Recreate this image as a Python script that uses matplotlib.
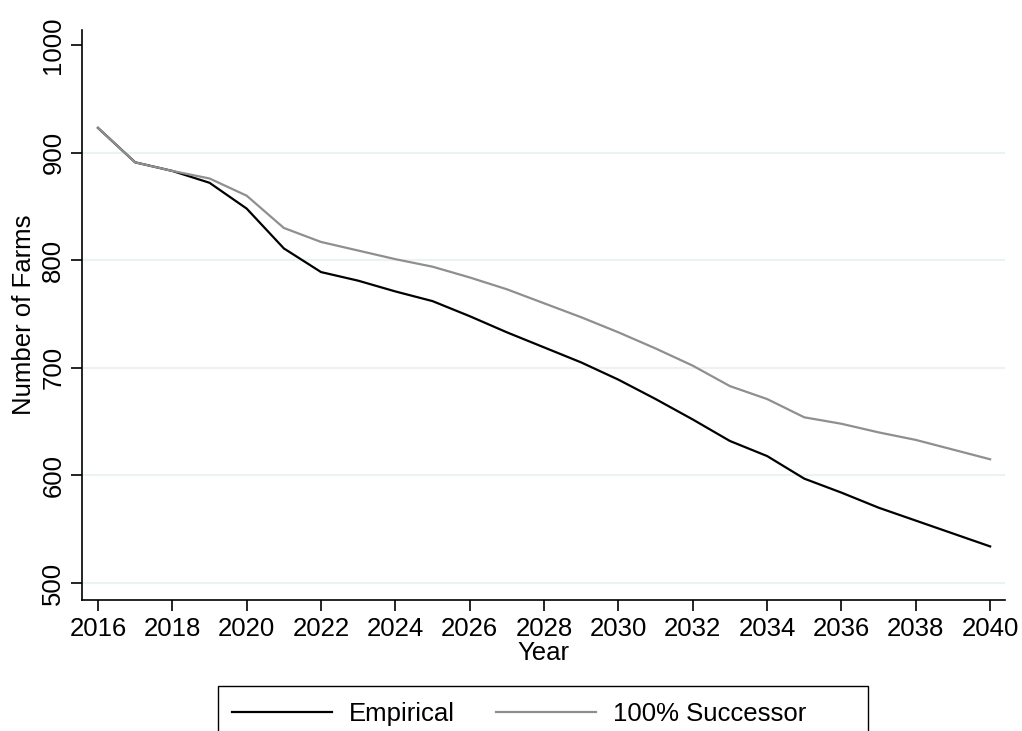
import matplotlib
matplotlib.use("Agg")
from matplotlib import pyplot as plt
from matplotlib.patches import Rectangle
import numpy as np

plt.rcParams['font.family'] = ['Liberation Sans', 'DejaVu Sans']

# values
years = list(range(2016, 2041))
empirical = [923, 891, 883, 872, 848, 811, 789, 781, 771, 762, 748, 733, 719,
             705, 689, 671, 652, 632, 618, 597, 584, 570, 558, 546, 534]
successor = [923, 891, 883, 876, 860, 830, 817, 809, 801, 794, 784, 773, 760,
             747, 733, 718, 702, 683, 671, 654, 648, 640, 633, 624, 615]

xticks = list(range(2016, 2041, 2))
yticks = [500, 600, 700, 800, 900, 1000]
grid_levels = [500, 600, 700, 800, 900]

fs = 18.5
W, H = 1022, 731

fig = plt.figure(figsize=(W / 100, H / 100), dpi=100)
ax = fig.add_axes([82 / W, 1 - 600 / H, (1005 - 82) / W, (600 - 30) / H])

# light gridlines like the stata scheme
for g in grid_levels:
    ax.axhline(g, color="#eaf2f3", lw=1.5, zorder=0)

ax.plot(years, empirical, color="black", lw=1.6, label="Empirical")
ax.plot(years, successor, color="#8f8f8f", lw=1.6, label="100% Successor")

ax.set_xlim(2015.57, 2040.4)
ax.set_ylim(484.2, 1014)
ax.set_xticks(xticks)
ax.set_yticks(yticks)
ax.set_yticklabels([str(t) for t in yticks], rotation=90, va="center")

for s in ["top", "right"]:
    ax.spines[s].set_visible(False)
ax.spines["left"].set_linewidth(1.2)
ax.spines["bottom"].set_linewidth(1.2)
ax.tick_params(axis="both", direction="out", length=8, width=1.2, labelsize=fs, pad=4)

ax.set_xlabel("Year", fontsize=fs, labelpad=0)
ax.set_ylabel("Number of Farms", fontsize=fs, labelpad=4)

# legend keys without frame, box drawn separately (stata makes it wider)
leg = fig.legend(loc="upper left", bbox_to_anchor=(218 / W, 1 - 688 / H),
                 ncol=2, fontsize=fs, frameon=False,
                 handlelength=3.9, handletextpad=0.65,
                 columnspacing=1.6, borderpad=0.55, borderaxespad=0)
fig.patches.append(Rectangle((218 / W, 1 - 740 / H), (868 - 218) / W, 54 / H,
                             transform=fig.transFigure, fill=False,
                             edgecolor="black", lw=1.0))

fig.savefig("out.png", dpi=100)
